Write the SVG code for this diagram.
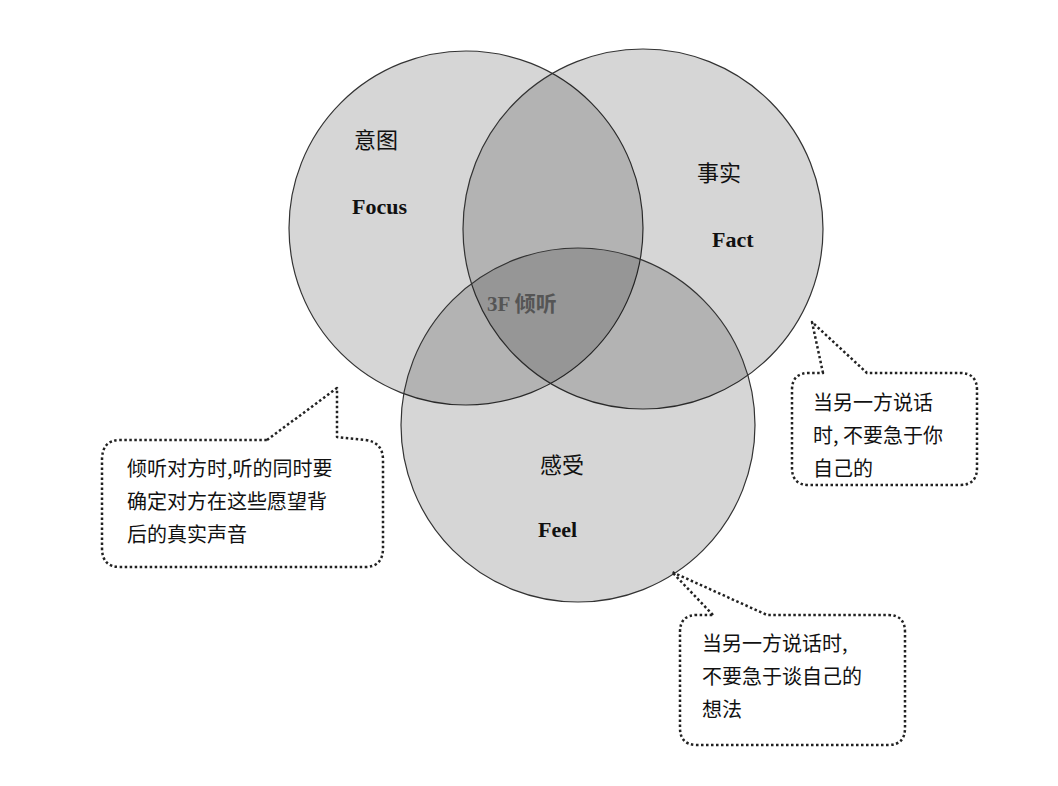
<svg xmlns="http://www.w3.org/2000/svg" width="1058" height="786" viewBox="0 0 1058 786">
<style>
.c{fill:#000;fill-opacity:0.16;stroke:#333;stroke-width:1.2}
.cb{fill:none;stroke:#222;stroke-width:2.5;stroke-dasharray:2.5 2.5;stroke-linejoin:round}
.zh{font-family:"Noto Sans CJK SC","Noto Sans",sans-serif;font-size:20px;fill:#111}
.lz{font-family:"Noto Sans CJK SC",serif;font-size:22px;fill:#111}
.en{font-family:"Liberation Serif",serif;font-weight:bold;font-size:22px;fill:#111}
</style>
<rect width="1058" height="786" fill="#fff"/>
<g id="circle-focus"><circle class="c" cx="466" cy="228" r="177"/>
<text class="lz" x="354" y="148">意图</text><text class="en" x="352" y="214">Focus</text></g>
<g id="circle-fact"><circle class="c" cx="643" cy="229" r="180"/>
<text class="lz" x="697" y="181">事实</text><text class="en" x="712" y="247">Fact</text></g>
<g id="circle-feel"><circle class="c" cx="578" cy="425" r="177"/>
<text class="lz" x="540" y="473">感受</text><text class="en" x="538" y="537">Feel</text></g>
<g id="center"><text x="487" y="311" style="font-family:'Liberation Serif','Noto Sans CJK SC',serif;font-weight:bold;font-size:21px;fill:#555">3F 倾听</text></g>
<g id="connectors">
<path class="cb" d="M267,440 L337,388 L337,437 L365,440 Q383,442 383,460 L383,548 Q383,567 365,567 L120,567 Q102,567 102,548 L102,460 Q102,440 120,440 Z"/>
<path class="cb" d="M823,373 L812,322 L867,373 L960,373 Q977,373 977,390 L977,468 Q977,485 960,485 L809,485 Q792,485 792,468 L792,390 Q792,373 809,373 Z"/>
<path class="cb" d="M713,615 L672,572 L767,615 L888,615 Q905,615 905,632 L905,728 Q905,745 888,745 L697,745 Q680,745 680,728 L680,632 Q680,615 697,615 Z"/>
</g>
<g id="callout-left"><text class="zh" x="127" y="476">倾听对方时,听的同时要</text><text class="zh" x="127" y="509">确定对方在这些愿望背</text><text class="zh" x="127" y="542">后的真实声音</text></g>
<g id="callout-right"><text class="zh" x="813" y="410">当另一方说话</text><text class="zh" x="813" y="443">时, 不要急于你</text><text class="zh" x="813" y="476">自己的</text></g>
<g id="callout-bottom"><text class="zh" x="702" y="651">当另一方说话时,</text><text class="zh" x="702" y="684">不要急于谈自己的</text><text class="zh" x="702" y="717">想法</text></g>
</svg>
